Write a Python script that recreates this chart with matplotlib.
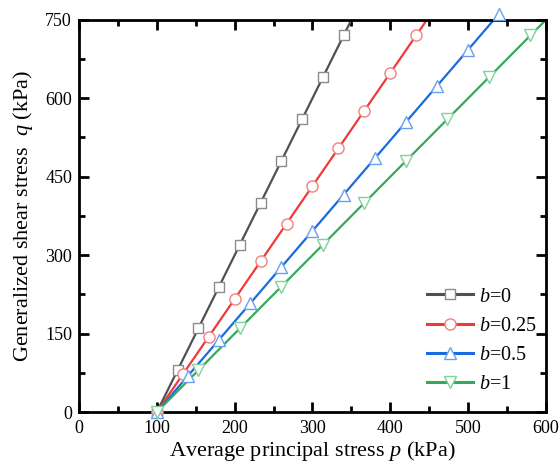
import matplotlib
matplotlib.use("Agg")
import matplotlib.pyplot as plt
from matplotlib.ticker import MultipleLocator

plt.rcParams['font.family'] = ['Liberation Serif', 'DejaVu Serif']
plt.rcParams['mathtext.fontset'] = 'custom'
plt.rcParams['mathtext.it'] = 'Liberation Serif:italic'
plt.rcParams['mathtext.rm'] = 'Liberation Serif'

labels = ["$b$=0", "$b$=0.25", "$b$=0.5", "$b$=1"]

# marker points
p_b0 = [100, 126.7, 153.3, 180, 206.7, 233.3, 260, 286.7, 313.3, 340]
q_b0 = [0, 80, 160, 240, 320, 400, 480, 560, 640, 720]
p_b025 = [100, 133.3, 166.7, 200, 233.3, 266.7, 300, 333.3, 366.7, 400, 433.3]
q_b025 = [0, 72, 144, 216, 288, 360, 432, 504, 576, 648, 720]
p_b05 = [100, 140, 180, 220, 260, 300, 340, 380, 420, 460, 500, 540]
q_b05 = [0, 69.3, 138.6, 207.8, 277.1, 346.4, 415.7, 485, 554.3, 623.5, 692.8, 762]
p_b1 = [100, 153.3, 206.7, 260, 313.3, 366.7, 420, 473.3, 526.7, 580]
q_b1 = [0, 80, 160, 240, 320, 400, 480, 560, 640, 720]

# where each line leaves the plot
line_end_p = [350, 447, 533, 600]
line_end_q = [750, 750, 750, 750]

line_colors = ["#505050", "#f03a3a", "#1a6ae0", "#35a85a"]
edge_colors = ["#8c8c8c", "#f28080", "#6a9ff0", "#7fd29c"]
markers = ["s", "o", "^", "v"]
sizes = [7.5, 8, 8.5, 8.5]

series = [(p_b0, q_b0), (p_b025, q_b025), (p_b05, q_b05), (p_b1, q_b1)]

fig = plt.figure(figsize=(5.6, 4.71), dpi=100)
ax = fig.add_axes([0.141, 0.125, 0.834, 0.833])

for i, (p, q) in enumerate(series):
    ax.plot([p[0], line_end_p[i]], [q[0], line_end_q[i]], '-', color=line_colors[i], lw=1.6, zorder=2)
    ax.plot(p, q, ls='none', marker=markers[i], ms=sizes[i], mfc='white', mec=edge_colors[i],
            mew=1.0, clip_on=False, zorder=3)
    ax.plot([], [], '-', color=line_colors[i], lw=2.2, marker=markers[i], ms=sizes[i], mfc='white',
            mec=edge_colors[i], mew=1.0, label=labels[i])

ax.set_xlim(0, 600)
ax.set_ylim(0, 750)
ax.xaxis.set_major_locator(MultipleLocator(100))
ax.xaxis.set_minor_locator(MultipleLocator(50))
ax.yaxis.set_major_locator(MultipleLocator(150))
ax.yaxis.set_minor_locator(MultipleLocator(75))
ax.tick_params(which='both', direction='in', top=True, right=True, width=2, labelsize=13)
ax.tick_params(which='major', length=7)
ax.tick_params(which='minor', length=4)
ax.tick_params(axis='x', pad=6)
ax.tick_params(axis='y', pad=5)
for s in ax.spines.values():
    s.set_linewidth(2)

ax.set_xlabel("Average principal stress $p$ (kPa)", fontsize=16, labelpad=1)
ax.set_ylabel("Generalized shear stress  $q$ (kPa)", fontsize=16, labelpad=7)

ax.legend(loc='lower right', bbox_to_anchor=(1.02, 0.0), frameon=False, fontsize=14.5,
          handlelength=2.3, handletextpad=0.3, labelspacing=0.5)

fig.savefig("out.png", dpi=100)
